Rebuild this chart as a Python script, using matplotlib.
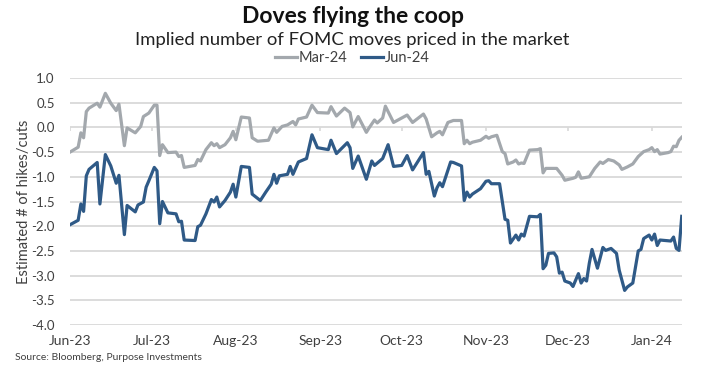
import matplotlib
matplotlib.use("Agg")
import matplotlib.pyplot as plt
import matplotlib.dates as mdates
import pandas as pd

# ---- data (days after 1 Jun 2023, value) ----
START = pd.Timestamp("2023-06-01")

mar_days = [0, 3, 4, 5, 6, 7, 10, 11, 13, 15, 17, 18, 20, 21, 24, 26, 27, 29, 31, 32,
            33, 34, 36, 39, 40, 41, 42, 46, 47, 48, 50, 52, 53, 54, 55, 57, 59, 60, 61, 63,
            66, 67, 69, 73, 75, 76, 78, 80, 82, 83, 84, 87, 89, 91, 95, 96, 98, 101, 103, 104,
            106, 109, 110, 112, 113, 115, 116, 119, 123, 124, 126, 130, 131, 133, 135, 136, 137, 139, 141, 144,
            145, 146, 147, 148, 151, 153, 154, 155, 157, 159, 160, 161, 163, 164, 165, 166, 167, 169, 172, 173,
            174, 175, 179, 181, 182, 185, 186, 187, 188, 191, 193, 195, 196, 198, 200, 202, 203, 205, 207, 209,
            211, 213, 214, 215, 216, 217, 220, 221, 222, 223, 224, 225]
mar_vals = [-0.50, -0.40, -0.11, -0.21, 0.32, 0.39, 0.49, 0.41, 0.69, 0.49, 0.34, 0.47, -0.37, -0.01, -0.11, 0.02, 0.22, 0.29, 0.45, 0.45,
            -0.57, -0.35, -0.51, -0.50, -0.59, -0.57, -0.81, -0.77, -0.65, -0.68, -0.45, -0.31, -0.37, -0.33, -0.41, -0.35, -0.21, -0.08, -0.25, 0.21,
            0.19, -0.21, -0.28, -0.26, -0.01, -0.10, 0.02, 0.05, 0.12, 0.05, 0.17, 0.21, 0.45, 0.30, 0.29, 0.42, 0.23, 0.39, 0.30, 0.01,
            0.22, -0.10, -0.01, 0.15, 0.09, 0.19, 0.43, 0.10, 0.22, 0.25, 0.10, 0.27, 0.17, -0.19, -0.11, -0.08, -0.15, 0.10, 0.14, 0.14,
            -0.33, -0.26, -0.33, -0.30, -0.26, -0.18, -0.22, -0.19, -0.16, -0.49, -0.53, -0.74, -0.70, -0.66, -0.74, -0.72, -0.73, -0.46, -0.45, -0.43,
            -0.92, -0.83, -0.83, -0.97, -1.07, -1.03, -1.01, -0.90, -1.03, -1.00, -0.83, -0.70, -0.73, -0.65, -0.68, -0.76, -0.85, -0.80, -0.74, -0.59,
            -0.49, -0.45, -0.41, -0.49, -0.45, -0.54, -0.51, -0.49, -0.38, -0.39, -0.26, -0.20]

jun_days = [0, 3, 4, 5, 6, 7, 10, 11, 13, 15, 17, 18, 20, 21, 24, 25, 27, 28, 29, 31,
            32, 33, 34, 36, 39, 40, 41, 42, 46, 47, 48, 50, 52, 53, 54, 55, 57, 59, 60, 61,
            63, 66, 67, 70, 72, 74, 75, 76, 77, 80, 81, 82, 84, 87, 89, 91, 95, 96, 98, 102,
            103, 104, 106, 109, 111, 112, 115, 117, 119, 122, 124, 126, 130, 131, 132, 134, 135, 136, 137, 140,
            141, 144, 145, 146, 147, 148, 151, 153, 154, 155, 158, 160, 161, 162, 164, 165, 166, 167, 169, 172,
            173, 174, 175, 176, 178, 179, 180, 181, 182, 184, 185, 187, 188, 189, 190, 191, 192, 194, 196, 197,
            199, 201, 202, 204, 205, 207, 209, 210, 211, 213, 214, 215, 216, 217, 221, 222, 223, 224, 225]
jun_vals = [-1.97, -1.88, -1.55, -1.70, -0.98, -0.85, -0.71, -1.55, -0.55, -0.78, -1.13, -0.97, -2.17, -1.58, -1.71, -1.57, -1.51, -1.21, -1.08, -0.81,
            -0.88, -1.95, -1.50, -1.73, -1.75, -1.91, -1.90, -2.28, -2.29, -2.01, -1.98, -1.75, -1.46, -1.51, -1.41, -1.61, -1.48, -1.31, -1.15, -1.41,
            -0.79, -0.81, -1.35, -1.48, -1.31, -1.15, -0.95, -1.13, -0.98, -0.95, -0.79, -0.95, -0.70, -0.63, -0.15, -0.41, -0.45, -0.26, -0.53, -0.31,
            -0.41, -0.83, -0.58, -1.05, -0.68, -0.77, -0.63, -0.35, -0.79, -0.77, -0.57, -0.86, -0.51, -0.95, -0.89, -1.39, -1.22, -1.12, -1.20, -0.70,
            -0.71, -0.78, -1.48, -1.31, -1.41, -1.35, -1.24, -1.09, -1.08, -1.14, -1.14, -1.86, -1.88, -2.34, -2.18, -2.28, -2.16, -2.20, -1.80, -1.81,
            -1.76, -2.86, -2.79, -2.55, -2.54, -2.62, -2.95, -2.93, -3.11, -3.15, -3.22, -2.96, -3.15, -3.06, -3.11, -2.75, -2.47, -2.85, -2.43, -2.49,
            -2.45, -2.55, -2.89, -3.30, -3.23, -3.15, -2.50, -2.47, -2.25, -2.18, -2.28, -2.16, -2.39, -2.28, -2.30, -2.22, -2.45, -2.49, -1.80]

y_ticks = [1.0, 0.5, 0.0, -0.5, -1.0, -1.5, -2.0, -2.5, -3.0, -3.5, -4.0]
month_ticks = pd.date_range("2023-06-01", "2024-01-01", freq="MS")

GREY = "#A3A8AD"
BLUE = "#2F5A87"
GRID = "#D9D9D9"
INK = "#404040"

plt.rcParams["font.family"] = ["Lato", "DejaVu Sans"]

mar_dates = START + pd.to_timedelta(mar_days, unit="D")
jun_dates = START + pd.to_timedelta(jun_days, unit="D")

fig = plt.figure(figsize=(7.05, 3.70), dpi=100)
ax = fig.add_axes([0.0993, 0.1216, 0.8677, 0.6676])

ax.plot(mar_dates, mar_vals, color=GREY, lw=2.3, label="Mar-24", zorder=3)
ax.plot(jun_dates, jun_vals, color=BLUE, lw=2.3, label="Jun-24", zorder=4)

ax.set_ylim(-4.0, 1.0)
ax.set_yticks(y_ticks)
ax.set_yticklabels([f"{v:.1f}" for v in y_ticks])
ax.set_xlim(START, START + pd.Timedelta(days=225))
ax.set_xticks(month_ticks)
ax.xaxis.set_major_formatter(mdates.DateFormatter("%b-%y"))
ax.grid(axis="y", color=GRID, lw=1.3, zorder=0)
ax.set_axisbelow(True)
for s in ax.spines.values():
    s.set_visible(False)
ax.tick_params(axis="x", length=0, labelsize=10, colors=INK, pad=7)
ax.tick_params(axis="y", length=0, labelsize=9.5, colors=INK, pad=11)

# small category ticks hanging off the zero line (Excel style)
ax.vlines(month_ticks, -0.08, 0, color=GRID, lw=1.2, zorder=1)

ax.set_ylabel("Estimated # of hikes/cuts", fontsize=10.5, color=INK, labelpad=0)

fig.text(0.5, 0.955, "Doves flying the coop", ha="center", va="center",
         fontsize=16.5, fontweight="bold", color="#111111")
fig.text(0.5, 0.893, "Implied number of FOMC moves priced in the market", ha="center",
         va="center", fontsize=13.3, color="#222222")
ax.legend(loc="center", bbox_to_anchor=(0.5, 0.843), bbox_transform=fig.transFigure,
          ncol=2, frameon=False, fontsize=10.5, handlelength=1.5, handletextpad=0.15,
          columnspacing=0.9, labelcolor=INK)
fig.text(0.021, 0.035, "Source: Bloomberg, Purpose Investments", ha="left", va="center",
         fontsize=7.5, color=INK)

fig.savefig("out.png", dpi=100)
